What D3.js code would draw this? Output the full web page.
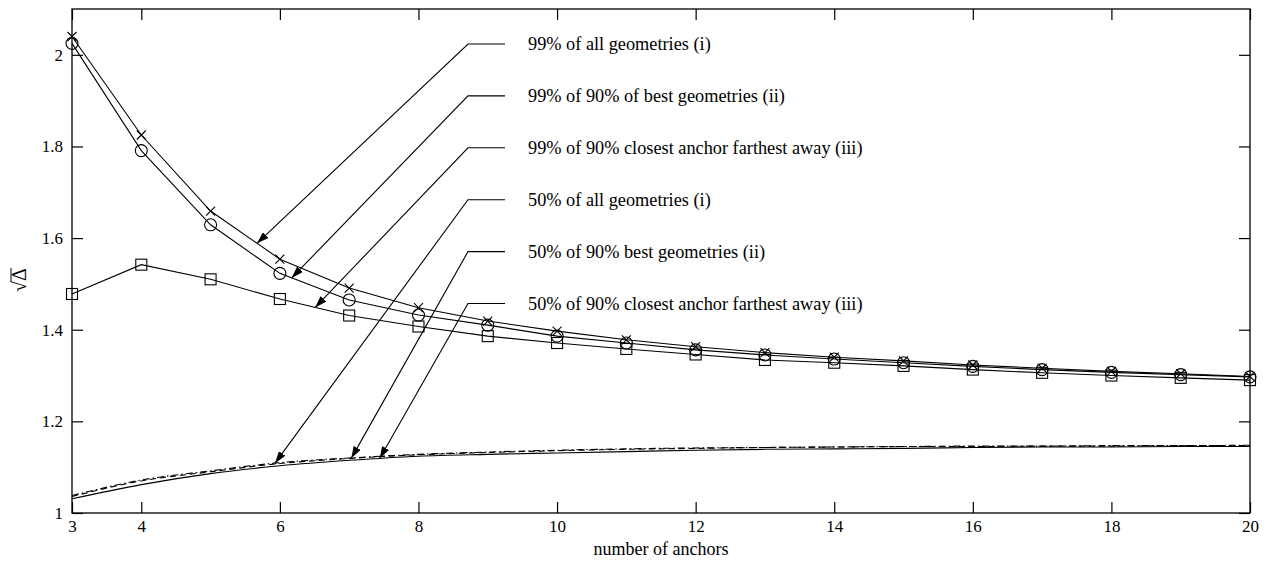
<!DOCTYPE html>
<html><head><meta charset="utf-8">
<script src="https://cdn.jsdelivr.net/npm/d3@7/dist/d3.min.js"></script>
<style>
html,body{margin:0;padding:0;background:#fff;}
svg text{font-family:'Liberation Serif','Times New Roman',Times,'DejaVu Serif',serif !important;fill:#000;}
</style></head>
<body>
<svg id="chart" width="1267" height="566"></svg>
<script>
// ---- data ----
const anchors = [3,4,5,6,7,8,9,10,11,12,13,14,15,16,17,18,19,20];
const p99All   = [2.040,1.825,1.659,1.554,1.491,1.448,1.419,1.397,1.378,1.363,1.350,1.340,1.332,1.323,1.316,1.309,1.304,1.298];
const p99Best  = [2.025,1.791,1.629,1.523,1.465,1.432,1.410,1.386,1.371,1.356,1.345,1.336,1.328,1.320,1.313,1.307,1.302,1.297];
const p99Far   = [1.478,1.542,1.510,1.467,1.431,1.407,1.386,1.371,1.358,1.346,1.334,1.328,1.321,1.313,1.306,1.300,1.295,1.290];
const p50All   = [1.038,1.072,1.092,1.110,1.120,1.128,1.133,1.137,1.140,1.142,1.143,1.144,1.145,1.146,1.146,1.147,1.147,1.148];
const p50Best  = [1.036,1.070,1.090,1.108,1.119,1.127,1.132,1.136,1.139,1.141,1.143,1.144,1.145,1.145,1.146,1.146,1.147,1.147];
const p50Far   = [1.031,1.062,1.086,1.103,1.115,1.124,1.128,1.131,1.134,1.137,1.139,1.140,1.141,1.143,1.144,1.144,1.145,1.145];
const xTicks = [3,4,6,8,10,12,14,16,18,20];
const yTicks = [1,1.2,1.4,1.6,1.8,2];
const labelTexts = [
  "99% of all geometries (i)",
  "99% of 90% of best geometries (ii)",
  "99% of 90% closest anchor farthest away (iii)",
  "50% of all geometries (i)",
  "50% of 90% best geometries (ii)",
  "50% of 90% closest anchor farthest away (iii)"
];
const labelTargets = [5.67, 6.17, 6.51, 5.93, 7.03, 7.44]; // x value where arrow points

// ---- layout ----
const FONT = "'Liberation Serif','Times New Roman',Times,'DejaVu Serif',serif";
const svg = d3.select("#chart");
const L = 72, R = 1250, T = 9, B = 513;
const x = d3.scaleLinear().domain([3,20]).range([L,R]);
const y = d3.scaleLinear().domain([1,2.1]).range([B,T]);

const series = [
  {v:p99All,  marker:"cross",  curve:d3.curveLinear, dash:null},
  {v:p99Best, marker:"circle", curve:d3.curveLinear, dash:null},
  {v:p99Far,  marker:"square", curve:d3.curveLinear, dash:null},
  {v:p50All,  marker:null, curve:d3.curveMonotoneX, dash:"7,3,1.5,3"},
  {v:p50Best, marker:null, curve:d3.curveMonotoneX, dash:"6,4"},
  {v:p50Far,  marker:null, curve:d3.curveMonotoneX, dash:null}
];

svg.append("defs").append("marker")
  .attr("id","arr").attr("viewBox","0 0 12 8").attr("refX",12).attr("refY",4)
  .attr("markerWidth",12).attr("markerHeight",8).attr("markerUnits","userSpaceOnUse")
  .attr("orient","auto")
  .append("path").attr("d","M0,0 L12,4 L0,8 Z").attr("fill","#000");

const tickLen = 11;
const axB = d3.axisBottom(x).tickValues(xTicks).tickSize(-tickLen).tickPadding(7).tickFormat(d3.format("d"));
const axT = d3.axisTop(x).tickValues(xTicks).tickSize(-tickLen).tickFormat("");
const axL = d3.axisLeft(y).tickValues(yTicks).tickSize(-tickLen).tickPadding(9).tickFormat(d=>String(d));
const axR = d3.axisRight(y).tickValues(yTicks).tickSize(-tickLen).tickFormat("");
function styleAx(g){
  g.attr("font-family",FONT).attr("font-size",17);
  g.select(".domain").remove();
  g.selectAll("line").attr("stroke","#000").attr("stroke-width",1.2);
  g.selectAll("text").attr("font-size",17).attr("font-family",FONT);
}
svg.append("g").attr("transform",`translate(0,${B})`).call(axB).call(styleAx);
svg.append("g").attr("transform",`translate(0,${T})`).call(axT).call(styleAx);
svg.append("g").attr("transform",`translate(${L},0)`).call(axL).call(styleAx);
svg.append("g").attr("transform",`translate(${R},0)`).call(axR).call(styleAx);

svg.append("rect").attr("x",L).attr("y",T).attr("width",R-L).attr("height",B-T)
  .attr("fill","none").attr("stroke","#000").attr("stroke-width",1.3);

series.forEach(s=>{
  const line = d3.line().x((d,i)=>x(anchors[i])).y(d=>y(d)).curve(s.curve);
  svg.append("path").datum(s.v).attr("d",line).attr("fill","none")
    .attr("stroke","#000").attr("stroke-width",1.1)
    .attr("stroke-dasharray",s.dash);
  if(s.marker){
    const g = svg.append("g");
    s.v.forEach((d,i)=>{
      const cx = x(anchors[i]), cy = y(d);
      if(s.marker==="circle"){
        g.append("circle").attr("cx",cx).attr("cy",cy).attr("r",6).attr("fill","none").attr("stroke","#000").attr("stroke-width",1.1);
      } else if(s.marker==="square"){
        g.append("rect").attr("x",cx-5.5).attr("y",cy-5.5).attr("width",11).attr("height",11).attr("fill","none").attr("stroke","#000").attr("stroke-width",1.1);
      } else {
        const h=4.5;
        g.append("path").attr("d",`M${cx-h},${cy-h}L${cx+h},${cy+h}M${cx-h},${cy+h}L${cx+h},${cy-h}`).attr("stroke","#000").attr("stroke-width",1.1);
      }
    });
  }
});

function interp(vals, xv){
  const i = Math.min(anchors.length-2, Math.max(0, d3.bisectRight(anchors,xv)-1));
  const t = (xv-anchors[i])/(anchors[i+1]-anchors[i]);
  return vals[i]+(vals[i+1]-vals[i])*t;
}
const labelY0 = 44, labelDy = 51.9, cornerX = 468, hEnd = 505, textX = 528;
labelTexts.forEach((txt,k)=>{
  const ly = labelY0 + k*labelDy;
  const tx = x(labelTargets[k]), ty = y(interp(series[k].v, labelTargets[k]));
  svg.append("path").attr("d",`M${hEnd},${ly}L${cornerX},${ly}L${tx},${ty}`)
    .attr("fill","none").attr("stroke","#000").attr("stroke-width",1.1).attr("marker-end","url(#arr)");
  svg.append("text").attr("x",textX).attr("y",ly+6).attr("font-size",18.3).attr("font-family",FONT).text(txt);
});

svg.append("text").attr("x",(L+R)/2).attr("y",555).attr("text-anchor","middle").attr("font-size",18).attr("font-family",FONT).text("number of anchors");
const yl = svg.append("g").attr("transform","translate(26,280) rotate(-90)");
const ytxt = yl.append("text").attr("text-anchor","middle").attr("font-size",20).attr("font-family",FONT).text("√Δ");
const bb = ytxt.node().getBBox();
const sq = yl.append("text").attr("font-size",20).attr("font-family",FONT).attr("visibility","hidden").text("√");
const sw = sq.node().getComputedTextLength();
sq.remove();
yl.append("line").attr("x1",bb.x+sw-0.5).attr("x2",bb.x+bb.width).attr("y1",bb.y+3).attr("y2",bb.y+3).attr("stroke","#000").attr("stroke-width",1);
</script>
</body></html>
